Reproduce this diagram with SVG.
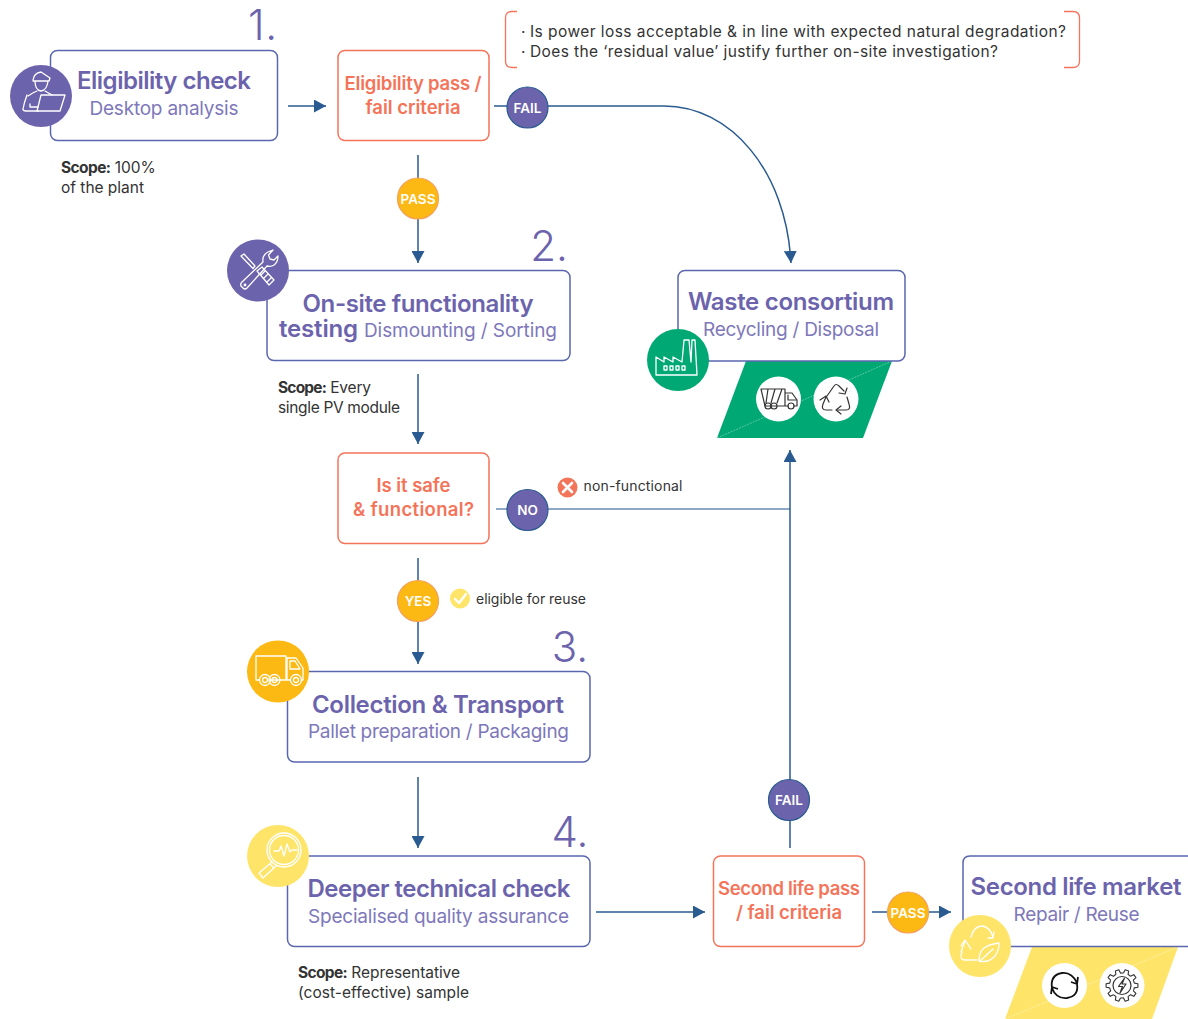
<svg xmlns="http://www.w3.org/2000/svg" width="1188" height="1019" viewBox="0 0 1188 1019">
<style>
text{font-family:"Inter","Liberation Sans",sans-serif}
.box{fill:#fff;stroke:#5a67ae;stroke-width:1.5}
.obox{fill:#fff;stroke:#f4745a;stroke-width:1.5}
.h{font-size:24px;font-weight:600;fill:#6c63ad;text-anchor:middle}
.s{font-size:19px;font-weight:400;fill:#7e78ba;text-anchor:middle}
.o{font-size:18.5px;font-weight:600;fill:#f4745a;text-anchor:middle}
.num{font-size:42px;font-weight:300;fill:#6c63ad;text-anchor:middle}
.t{font-size:15.5px;fill:#333;font-weight:400}
.tb{font-weight:700}
.lab{font-size:13.5px;font-weight:600;fill:#fff;text-anchor:middle}
.note{font-size:15.5px;fill:#333}
.con{fill:none;stroke:#2a5b90;stroke-width:1.5}
.ic{fill:none;stroke:#fff;stroke-width:1.3;stroke-linejoin:round;stroke-linecap:round}
.ik{fill:none;stroke:#333;stroke-width:1.2;stroke-linejoin:round;stroke-linecap:round}
.pb{fill:#6c63ad;stroke:#2a5b90;stroke-width:1.2}
.ab{fill:#fdb913;stroke:#f4a05a;stroke-width:1.2}
</style>
<defs>
<marker id="a" markerUnits="userSpaceOnUse" markerWidth="13" markerHeight="13" refX="12" refY="6.5" orient="auto"><path d="M0 0L12 6.500L0 13Z" fill="#2a5b90"/></marker>
<path id="gt" d="M12.270-2.390L15.900-1.810V1.810L12.270 2.390A12.500 12.500 0 0 1 11.330 5.280" fill="none" stroke="#333" stroke-width="1.100" stroke-linejoin="round"/>
</defs>

<g id="connectors">
<path class="con" d="M288 106H326" marker-end="url(#a)"/>
<path class="con" d="M494 106H664C730 106 786 170 791 263" marker-end="url(#a)"/>
<path class="con" d="M418 155V263" marker-end="url(#a)"/>
<path class="con" d="M418 374V444" marker-end="url(#a)"/>
<path class="con" d="M496 509H790" stroke-opacity=".7"/>
<path class="con" d="M418 558V664" marker-end="url(#a)"/>
<path class="con" d="M418 777V848" marker-end="url(#a)"/>
<path class="con" d="M596 912H705" marker-end="url(#a)"/>
<path class="con" d="M790 848V450" marker-end="url(#a)"/>
<path class="con" d="M872 912H951" marker-end="url(#a)"/>
</g>

<g id="note">
<path d="M517 11.500H512Q505.500 11.500 505.500 18V61Q505.500 67.500 512 67.500H517M1064 11.500H1073Q1079.500 11.500 1079.500 18V61Q1079.500 67.500 1073 67.500H1064" fill="none" stroke="#f4745a" stroke-width="1.300"/>
<text class="note" x="521" y="37">·</text><text class="note" x="530" y="37" textLength="536">Is power loss acceptable &amp; in line with expected natural degradation?</text>
<text class="note" x="521" y="57">·</text><text class="note" x="530" y="57" textLength="468">Does the ‘residual value’ justify further on-site investigation?</text>
</g>

<g id="node-eligibility">
<text class="num" x="262.500" y="40" textLength="29">1.</text>
<rect class="box" x="50.500" y="50.500" width="227" height="90" rx="7"/>
<circle cx="41" cy="96" r="31" fill="#6c63ad"/>
<g class="ic"><path d="M33 80Q34 73 41 72L50 78L49 81H33M35 81Q35 90 41 91Q47 90 48 81"/><path d="M28 96Q34 92 37 91M45 91L52 95"/><path d="M27 95Q24 103 23 109Q23 111 26 111H38M30 104V107H38"/><path d="M41 95H65L60 111H37Z"/></g>
<text class="h" x="164" y="89" textLength="174">Eligibility check</text>
<text class="s" x="164" y="115" textLength="149">Desktop analysis</text>
<text class="t" x="61" y="173"><tspan class="tb" letter-spacing="-.6">Scope:</tspan> 100%</text>
<text class="t" x="61" y="193" textLength="83">of the plant</text>
</g>

<g id="node-pass-fail-1">
<rect class="obox" x="338" y="50.500" width="151" height="90" rx="7"/>
<text class="o" x="413" y="89.500" textLength="137">Eligibility pass /</text>
<text class="o" x="413" y="113.500" textLength="95">fail criteria</text>
</g>
<g id="badge-fail-1"><circle class="pb" cx="527.500" cy="107.500" r="20.500"/><text class="lab" x="527.500" y="113">FAIL</text></g>
<g id="badge-pass-1"><circle class="ab" cx="418" cy="198.500" r="20.500"/><text class="lab" x="418" y="204">PASS</text></g>

<g id="node-onsite">
<text class="num" x="549" y="261">2.</text>
<rect class="box" x="267" y="270.500" width="303" height="90" rx="7"/>
<circle cx="258" cy="270.500" r="31" fill="#6c63ad"/>
<g class="ic"><path d="M241 256L244 254L255 266L253 268.500ZM244 256"/><path d="M263 262Q262 255 268 252L273 250L268.500 255L270 259L274 260L278 256Q278 262 274 265Q271 267 267 266L247 288Q245 290 243 288L241 286Q240 284 242 282Z"/><path d="M257 271L262 267L274 280L269 285ZM261 275L265 271M264 278L268 274M267 282L271 278"/><circle cx="245" cy="285" r=".8"/></g>
<text class="h" x="418" y="311.500" textLength="231">On-site functionality</text>
<text class="h" x="279" y="337" style="text-anchor:start" textLength="79">testing</text>
<text class="s" x="364" y="337" style="text-anchor:start" textLength="193">Dismounting / Sorting</text>
<text class="t" x="278" y="393" textLength="93"><tspan class="tb" letter-spacing="-.6">Scope:</tspan> Every</text>
<text class="t" x="278" y="413" textLength="122">single PV module</text>
</g>

<g id="node-safe">
<rect class="obox" x="338" y="453" width="151" height="90.500" rx="7"/>
<text class="o" x="413.500" y="492" textLength="74">Is it safe</text>
<text class="o" x="413.500" y="516" textLength="121">&amp; functional?</text>
</g>
<g id="badge-no"><circle class="pb" cx="527.500" cy="510" r="20.500"/><text class="lab" x="527.500" y="515">NO</text></g>
<g id="flag-non-functional">
<circle cx="567.500" cy="487.500" r="10" fill="#f4745a"/><path d="M563 483L572 492M572 483L563 492" stroke="#fff" stroke-width="2.600" stroke-linecap="round"/>
<text class="t" x="583.500" y="491" style="font-size:14px" textLength="99">non-functional</text>
</g>
<g id="badge-yes"><circle class="ab" cx="418" cy="601" r="20.500"/><text class="lab" x="418" y="606">YES</text></g>
<g id="flag-eligible">
<circle cx="460" cy="598.500" r="10" fill="#fee56a"/><path d="M455 599L459 603L466 594" fill="none" stroke="#fff" stroke-width="2.400" stroke-linecap="round" stroke-linejoin="round"/>
<text class="t" x="476" y="604" style="font-size:14px" textLength="110">eligible for reuse</text>
</g>

<g id="node-transport">
<text class="num" x="570" y="662">3.</text>
<rect class="box" x="287.500" y="671.500" width="302.500" height="90.500" rx="7"/>
<circle cx="278" cy="671.500" r="31" fill="#fdb913"/>
<g class="ic"><path d="M259 680H256V656H286V680H270M279 680H290M301 680H303V668L296 658H287V680"/><path d="M290 661H295L300 669H290Z"/><circle cx="265" cy="680" r="5.500"/><circle cx="265" cy="680" r="2.500"/><circle cx="274.500" cy="680" r="5.500"/><circle cx="274.500" cy="680" r="2.500"/><circle cx="296" cy="680" r="5.500"/><circle cx="296" cy="680" r="2.500"/></g>
<text class="h" x="438" y="712.500" textLength="252">Collection &amp; Transport</text>
<text class="s" x="438.500" y="738" textLength="261">Pallet preparation / Packaging</text>
</g>

<g id="node-technical">
<text class="num" x="570" y="847">4.</text>
<rect class="box" x="287.500" y="856" width="302.500" height="90.500" rx="7"/>
<circle cx="278" cy="856" r="31" fill="#fee56a"/>
<g class="ic"><circle cx="284" cy="850" r="17"/><circle cx="284" cy="850" r="14.500"/><path d="M274 851H279L281 846L284 856L287 844L290 852L292 850H297"/><path d="M272 862L259 873L263 878L276 866M270 864L274 868"/></g>
<text class="h" x="439" y="896.500" textLength="263">Deeper technical check</text>
<text class="s" x="438.500" y="923" textLength="261">Specialised quality assurance</text>
<text class="t" x="298" y="978" textLength="162"><tspan class="tb" letter-spacing="-.6">Scope:</tspan> Representative</text>
<text class="t" x="298" y="998" textLength="171">(cost-effective) sample</text>
</g>

<g id="node-pass-fail-2">
<rect class="obox" x="713.500" y="856" width="151" height="90.500" rx="7"/>
<text class="o" x="789" y="895" textLength="142">Second life pass</text>
<text class="o" x="789" y="919" textLength="106">/ fail criteria</text>
</g>
<g id="badge-fail-2"><circle class="pb" cx="789" cy="800" r="20.500"/><text class="lab" x="789" y="805">FAIL</text></g>
<g id="badge-pass-2"><circle class="ab" cx="908" cy="912.500" r="20.500"/><text class="lab" x="908" y="918">PASS</text></g>

<g id="node-waste">
<path d="M746 361H892L863 438H717Z" fill="#00a874"/>
<path d="M717 438L892 361" stroke="#fff" stroke-opacity=".45" stroke-width=".8" stroke-dasharray="2 1"/>
<rect class="box" x="678" y="270.500" width="227" height="90.500" rx="7"/>
<circle cx="678" cy="360" r="31" fill="#00a874"/>
<g class="ic"><path d="M656 375V357L664 362V357L673 362V357L682 362L684 340H689L691 362L692 340H695L697 375Z"/><rect x="664" y="366" width="3" height="4"/><rect x="670" y="366" width="3" height="4"/><rect x="676" y="366" width="3" height="4"/><rect x="682" y="366" width="3" height="4"/></g>
<circle cx="778.500" cy="399" r="22.500" fill="#fff"/><circle cx="836" cy="399" r="22.500" fill="#fff"/>
<g class="ik"><path d="M761 389H785V406H772L768 406H765ZM768 389L766 403M775 389L771 403M782 389L777 403M785 393H792L797 400V406H794M785 406H788"/><path d="M788 395V400H796"/><circle cx="768" cy="406" r="3"/><circle cx="774" cy="406" r="3"/><circle cx="791" cy="406" r="3"/></g>
<g class="ik" stroke="#222"><path d="M827 396L834 386Q836 383 839 386L844 391M847 388L845 394L839 393M842 385"/><path d="M847 397L849 404Q851 410 846 410H838M841 406L836 410L841 414"/><path d="M832 410H826Q821 410 823 404L826 397M820 400L826 396L829 402"/></g>
<text class="h" x="791" y="309.500" textLength="206">Waste consortium</text>
<text class="s" x="791" y="336" textLength="176">Recycling / Disposal</text>
</g>

<g id="node-market">
<path d="M1032 947H1178L1152 1019H1005Z" fill="#fee56a"/>
<path d="M1005 1019L1178 947" stroke="#fff" stroke-opacity=".5" stroke-width=".8" stroke-dasharray="2 1"/>
<path class="box" d="M1190 856H970Q963 856 963 863V940Q963 946.500 970 946.500H1190"/>
<circle cx="980" cy="946" r="31" fill="#fee56a"/>
<g class="ic"><path d="M971 937Q974 926 982 926Q990 927 993 937M988 938L993 938L994 932"/><path d="M961 952L965 941M961 946L965 940L971 949M962 952Q959 960 965 960H977"/><path d="M979 961Q979 952 984 948Q990 944 999 943Q999 952 994 957Q988 963 979 961ZM981 960L993 949"/></g>
<circle cx="1064.500" cy="985.500" r="22.500" fill="#fff"/><circle cx="1122" cy="985.500" r="22.500" fill="#fff"/>
<path d="M1052 988Q1050 975 1062 973Q1072 972 1077 983M1078 977L1077 984L1071 982M1077 984Q1079 996 1067 998Q1056 999 1052 988M1051 994L1052 987L1058 989" fill="none" stroke="#111" stroke-width="1.800" stroke-linejoin="round"/>
<g transform="translate(1122 985.500)">
<use href="#gt"/><use href="#gt" transform="rotate(36)"/><use href="#gt" transform="rotate(72)"/><use href="#gt" transform="rotate(108)"/><use href="#gt" transform="rotate(144)"/><use href="#gt" transform="rotate(180)"/><use href="#gt" transform="rotate(216)"/><use href="#gt" transform="rotate(252)"/><use href="#gt" transform="rotate(288)"/><use href="#gt" transform="rotate(324)"/>
<circle r="9" class="ik"/>
<path d="M2.500-7.500L-3.500 1H0.500L-2 7.500L4-1.500H0Z" class="ik"/>
</g>
<text class="h" x="1076" y="894.500" textLength="211">Second life market</text>
<text class="s" x="1076.500" y="921" textLength="126">Repair / Reuse</text>
</g>
</svg>
